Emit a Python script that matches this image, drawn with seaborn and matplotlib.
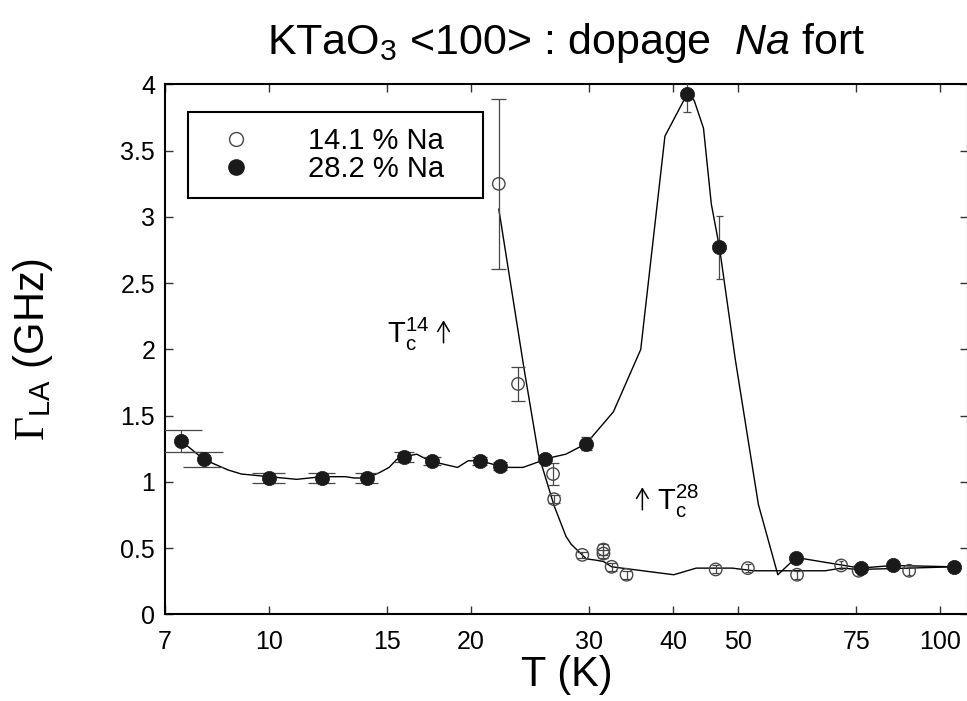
import numpy as np
import pandas as pd
import matplotlib.pyplot as plt
import matplotlib.ticker as mticker
from matplotlib.lines import Line2D
import seaborn as sns

# 14.1 % Na (open circles)
T_14 = [22.0, 23.5, 26.5, 26.6, 29.3, 31.5, 31.5, 32.4, 34.1, 46.3, 51.7, 61.2, 71.2, 75.6, 89.9]
G_14 = [3.25, 1.74, 1.06, 0.87, 0.45, 0.49, 0.46, 0.36, 0.30, 0.34, 0.35, 0.30, 0.37, 0.33, 0.33]
E_14 = [0.64, 0.13, 0.08, 0.03, 0.02, 0.04, 0.03, 0.03, 0.03, 0.03, 0.03, 0.03, 0.03, 0.03, 0.03]

# 28.2 % Na (filled circles)
T_28 = [7.4, 8.0, 10.0, 12.0, 14.0, 15.9, 17.5, 20.6, 22.1, 25.8, 29.7, 42.0, 46.9, 61.0, 76.1, 85.0, 104.8]
G_28 = [1.31, 1.17, 1.03, 1.03, 1.03, 1.19, 1.16, 1.16, 1.12, 1.17, 1.29, 3.93, 2.77, 0.43, 0.35, 0.37, 0.36]
E_28 = [0.08, 0.055, 0.038, 0.038, 0.038, 0.04, 0.03, 0.03, 0.03, 0.03, 0.05, 0.14, 0.24, 0.02, 0.02, 0.02, 0.02]

# guide curves
T_line14 = [22.0, 24.0, 25.2, 26.6, 27.7, 28.2, 29.7, 30.7, 31.5, 32.4, 40.1, 43.3, 49.0, 52.7, 67.4, 71.3, 75.7, 89.8, 104.8]
G_line14 = [3.06, 1.85, 1.21, 0.82, 0.59, 0.53, 0.42, 0.41, 0.40, 0.36, 0.30, 0.35, 0.35, 0.33, 0.33, 0.35, 0.34, 0.35, 0.36]

T_line28 = [7.4, 8.0, 8.7, 9.1, 10.0, 11.0, 12.0, 13.0, 13.4, 14.0, 14.6, 15.1, 15.5, 15.9, 16.6, 17.2,
            18.0, 19.1, 19.8, 20.6, 22.1, 22.8, 23.9, 25.8, 26.6, 27.7, 29.7, 32.6, 35.8, 38.9, 42.0,
            43.0, 44.4, 45.6, 46.9, 49.5, 53.6, 57.3, 61.0, 76.1, 85.0, 104.8]
G_line28 = [1.31, 1.17, 1.09, 1.06, 1.04, 1.02, 1.04, 1.04, 1.03, 1.03, 1.07, 1.11, 1.17, 1.19, 1.21, 1.17,
            1.14, 1.11, 1.16, 1.16, 1.12, 1.11, 1.11, 1.17, 1.19, 1.21, 1.29, 1.53, 2.00, 3.61, 3.93,
            3.88, 3.67, 3.10, 2.77, 1.93, 0.83, 0.30, 0.43, 0.35, 0.37, 0.36]

XTICKS = [7, 10, 15, 20, 30, 40, 50, 75, 100]
YTICKS = [0, 0.5, 1, 1.5, 2, 2.5, 3, 3.5, 4]

GREY = '#474747'
DARK = '#1a1a1a'

sns.set_style("ticks")
plt.rcParams['font.family'] = ['Liberation Sans', 'DejaVu Sans']
plt.rcParams['mathtext.fontset'] = 'custom'
plt.rcParams['mathtext.rm'] = 'Liberation Serif'
plt.rcParams['mathtext.sf'] = 'Liberation Sans'
plt.rcParams['mathtext.it'] = 'Liberation Sans:italic'
for k in ('text.color', 'axes.labelcolor', 'xtick.color', 'ytick.color'):
    plt.rcParams[k] = 'black'

fig = plt.figure(figsize=(9.67, 7.01), dpi=100)
ax = fig.add_axes([0.1706, 0.1234, 0.8304, 0.7561])

df14 = pd.DataFrame({'T': T_14, 'G': G_14, 'err': E_14})
df28 = pd.DataFrame({'T': T_28, 'G': G_28, 'err': E_28})

# guide lines
sns.lineplot(x=T_line14, y=G_line14, sort=False, estimator=None, color='black', lw=1.0, ax=ax)
sns.lineplot(x=T_line28, y=G_line28, sort=False, estimator=None, color='black', lw=1.0, ax=ax)

# error bars, caps about 1.1 K wide
for d in (df14, df28):
    ax.errorbar(d['T'], d['G'], yerr=d['err'], fmt='none', ecolor=GREY, elinewidth=0.9, capsize=0, zorder=3)
    ax.hlines(d['G'] - d['err'], d['T'] - 0.55, d['T'] + 0.55, color=GREY, lw=0.9, zorder=3)
    ax.hlines(d['G'] + d['err'], d['T'] - 0.55, d['T'] + 0.55, color=GREY, lw=0.9, zorder=3)

sns.scatterplot(data=df14, x='T', y='G', marker='o', s=80, facecolor='none',
                edgecolor=GREY, linewidth=1.0, ax=ax, zorder=4)
sns.scatterplot(data=df28, x='T', y='G', marker='o', s=105, color=DARK,
                edgecolor=DARK, linewidth=0.5, ax=ax, zorder=5)

ax.set_xscale('log')
ax.set_xlim(7, 110)
ax.set_ylim(0, 4)
ax.xaxis.set_major_locator(mticker.FixedLocator(XTICKS))
ax.xaxis.set_major_formatter(mticker.FixedFormatter([str(t) for t in XTICKS]))
ax.xaxis.set_minor_locator(mticker.NullLocator())
ax.set_yticks(YTICKS)
ax.set_yticklabels([f'{v:g}' for v in YTICKS])

for s in ax.spines.values():
    s.set_visible(True)
    s.set_linewidth(1.5)
    s.set_color('black')
ax.tick_params(which='both', direction='in', top=True, right=True, length=6, width=1.0,
               color='#333333', labelsize=18)
ax.tick_params(axis='x', pad=11)
ax.tick_params(axis='y', pad=7)

ax.set_title('KTaO$_\\mathsf{3}$ <100> : dopage  $\\mathit{Na}$ fort', fontsize=31, pad=22)
ax.set_xlabel('T (K)', fontsize=30, labelpad=1)
ax.set_ylabel('$\\Gamma_{\\mathsf{LA}}$ (GHz)', fontsize=30)
ax.yaxis.set_label_coords(-0.137, 0.5)

# transition temperature markers
ax.text(15.0, 2.05, '$\\mathsf{T}_{\\mathsf{c}}^{\\mathsf{14}}$', fontsize=21, ha='left', va='baseline')
ax.text(37.9, 0.79, '$\\mathsf{T}_{\\mathsf{c}}^{\\mathsf{28}}$', fontsize=21, ha='left', va='baseline')
arrow = dict(arrowstyle='->,head_length=0.7,head_width=0.42', lw=1.1, color='black',
             shrinkA=0, shrinkB=0)
ax.annotate('', xy=(18.2, 2.22), xytext=(18.2, 2.05), arrowprops=arrow)
ax.annotate('', xy=(36.0, 0.96), xytext=(36.0, 0.79), arrowprops=arrow)

handles = [
    Line2D([], [], ls='none', marker='o', ms=10, mfc='none', mec=GREY, mew=1.0),
    Line2D([], [], ls='none', marker='o', ms=11, mfc=DARK, mec=DARK),
]
leg = ax.legend(handles, ['14.1 % Na', '28.2 % Na'], loc='upper left',
                bbox_to_anchor=(0.0283, 0.0, 0.368, 0.9475), mode='expand',
                borderaxespad=0, borderpad=0.5, labelspacing=0.02,
                handlelength=2.3, handletextpad=1.32, fontsize=21,
                fancybox=False, framealpha=1, edgecolor='black')
leg.get_frame().set_linewidth(1.5)

plt.savefig('out.png', dpi=100)
